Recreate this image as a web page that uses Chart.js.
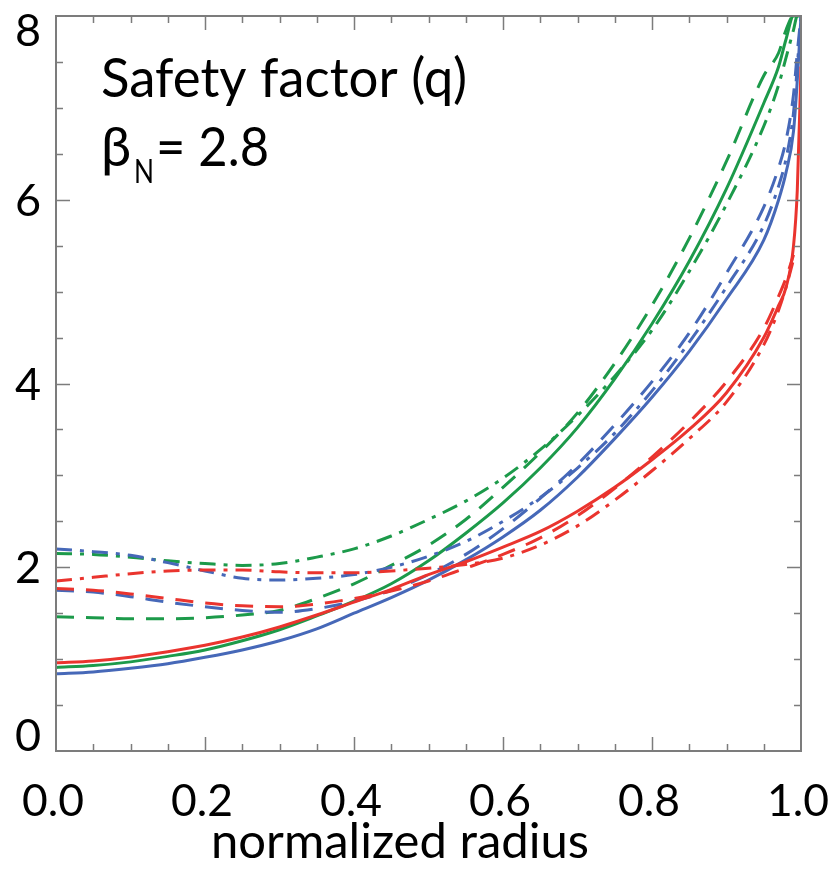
<!DOCTYPE html>
<html>
<head>
<meta charset="utf-8">
<script src="https://cdn.jsdelivr.net/npm/chart.js@4.4.0/dist/chart.umd.min.js"></script>
<style>
    html, body { margin: 0; padding: 0; background: #ffffff; }
    #wrap { width: 833px; height: 874px; }
</style>
</head>
<body>
<div id="wrap"><canvas id="qChart" width="833" height="874"></canvas></div>
<script>
// normalized radius grid shared by all profiles
const radius = [0, 0.05, 0.1, 0.15, 0.2, 0.25, 0.3, 0.35, 0.4, 0.45, 0.5, 0.55, 0.6, 0.65, 0.7, 0.75, 0.8, 0.85, 0.9, 0.95, 0.97, 0.98, 0.99, 0.995, 1.0];

// red
const redSolid   = [0.96, 0.98, 1.02, 1.08, 1.15, 1.24, 1.35, 1.48, 1.62, 1.76, 1.92, 2.06, 2.22, 2.39, 2.61, 2.87, 3.17, 3.50, 3.90, 4.50, 4.85, 5.05, 5.50, 6.10, 7.45];
const redDashed  = [1.77, 1.75, 1.71, 1.66, 1.61, 1.58, 1.57, 1.60, 1.66, 1.74, 1.85, 1.99, 2.14, 2.32, 2.56, 2.86, 3.20, 3.58, 4.02, 4.60, 4.95, 5.15, 5.40, null, null];
const redDashDot = [1.85, 1.89, 1.93, 1.96, 1.97, 1.97, 1.95, 1.94, 1.94, 1.96, 1.99, 2.03, 2.10, 2.24, 2.45, 2.73, 3.05, 3.40, 3.80, 4.42, 4.80, 5.05, 5.35, null, null];

// green
const greenSolid   = [0.91, 0.93, 0.97, 1.03, 1.10, 1.20, 1.32, 1.47, 1.63, 1.82, 2.07, 2.37, 2.70, 3.08, 3.52, 4.05, 4.65, 5.33, 6.12, 7.05, 7.45, 7.75, 8.00, 8.00, 8.00];
const greenDashed  = [1.46, 1.45, 1.44, 1.44, 1.45, 1.48, 1.53, 1.66, 1.82, 2.02, 2.24, 2.52, 2.87, 3.25, 3.68, 4.22, 4.85, 5.58, 6.42, 7.35, 7.60, 7.85, 8.00, 8.00, 8.00];
const greenDashDot = [2.15, 2.14, 2.11, 2.07, 2.04, 2.02, 2.04, 2.11, 2.20, 2.34, 2.52, 2.72, 2.97, 3.28, 3.65, 4.08, 4.58, 5.22, 5.95, 6.80, 7.25, 7.55, 7.85, 8.00, 8.00];

// blue
const blueSolid   = [0.84, 0.86, 0.90, 0.95, 1.02, 1.10, 1.20, 1.33, 1.50, 1.67, 1.86, 2.08, 2.33, 2.62, 2.98, 3.40, 3.85, 4.35, 4.92, 5.56, 6.00, 6.30, 6.75, 7.30, 8.00];
const blueDashed  = [1.75, 1.73, 1.68, 1.62, 1.57, 1.53, 1.51, 1.55, 1.63, 1.75, 1.92, 2.14, 2.42, 2.75, 3.12, 3.55, 4.02, 4.55, 5.20, 5.92, 6.35, 6.65, 7.15, 7.60, 8.00];
const blueDashDot = [2.20, 2.17, 2.13, 2.05, 1.96, 1.88, 1.86, 1.88, 1.92, 2.00, 2.12, 2.28, 2.50, 2.76, 3.08, 3.46, 3.92, 4.45, 5.05, 5.72, 6.15, 6.45, 6.95, 7.45, 8.00];

const xTickLabels = ['0.0', '0.2', '0.4', '0.6', '0.8', '1.0'];
const yTickLabels = ['0', '2', '4', '6', '8'];

const RED = 'rgb(234, 52, 46)';
const GREEN = 'rgb(28, 154, 74)';
const BLUE = 'rgb(70, 104, 184)';
const DASH = [18, 12];
const DASH_DOT = [16, 8, 4, 8];
const FONT = 'Lato, "Open Sans", sans-serif';

function toPoints(values) {
    return radius
        .map((r, i) => ({ x: r, y: values[i] }))
        .filter(p => p.y !== null);
}

function line(label, values, color, dash) {
    return {
        label,
        data: toPoints(values),
        borderColor: color,
        borderWidth: 3,
        borderDash: dash,
        pointRadius: 0,
        fill: false,
        cubicInterpolationMode: 'monotone'
    };
}

const framePlugin = {
    id: 'frame',
    afterDatasetsDraw(chart) {
        const { ctx, chartArea: a, scales: { x, y } } = chart;
        ctx.save();

        // ticks point inward on all four sides
        ctx.strokeStyle = '#7c7c7c';
        ctx.lineWidth = 1.5;
        for (let i = 1; i < 20; i++) {
            const px = Math.round(x.getPixelForValue(i * 0.05)) + 0.5;
            const len = (i % 4 === 0) ? 14 : 7;
            ctx.beginPath();
            ctx.moveTo(px, a.bottom); ctx.lineTo(px, a.bottom - len);
            ctx.moveTo(px, a.top); ctx.lineTo(px, a.top + len);
            ctx.stroke();
        }
        for (let i = 1; i < 16; i++) {
            const py = Math.round(y.getPixelForValue(i * 0.5)) + 0.5;
            const len = (i % 4 === 0) ? 14 : 7;
            ctx.beginPath();
            ctx.moveTo(a.left, py); ctx.lineTo(a.left + len, py);
            ctx.moveTo(a.right, py); ctx.lineTo(a.right - len, py);
            ctx.stroke();
        }

        ctx.lineWidth = 2;
        ctx.strokeRect(a.left, a.top, a.right - a.left, a.bottom - a.top);

        // tick labels
        ctx.fillStyle = '#000000';
        ctx.font = '45px ' + FONT;
        ctx.textAlign = 'center';
        ctx.textBaseline = 'alphabetic';
        xTickLabels.forEach(t => {
            const px = x.getPixelForValue(parseFloat(t));
            ctx.fillText(t, px - 3, 816, 62);
        });
        yTickLabels.forEach(t => {
            const py = y.getPixelForValue(parseFloat(t));
            const c = Math.min(Math.max(py, a.top + 14), a.bottom - 16);
            ctx.fillText(t, 28, c + 16);
        });

        // axis title
        ctx.font = '49px ' + FONT;
        ctx.fillText('normalized radius', 400, 858, 384);

        // annotation
        ctx.textAlign = 'left';
        ctx.font = '54px ' + FONT;
        ctx.fillText('Safety factor (q)', 101, 97, 366);
        ctx.fillText('\u03B2', 101, 166);
        ctx.font = '33px ' + FONT;
        ctx.fillText('N', 134, 183, 20);
        ctx.font = '54px ' + FONT;
        ctx.fillText('= 2.8', 156, 166, 113);

        ctx.restore();
    }
};

new Chart(document.getElementById('qChart').getContext('2d'), {
    type: 'line',
    data: {
        datasets: [
            line('red solid', redSolid, RED, []),
            line('red dashed', redDashed, RED, DASH),
            line('red dash-dot', redDashDot, RED, DASH_DOT),
            line('blue solid', blueSolid, BLUE, []),
            line('blue dashed', blueDashed, BLUE, DASH),
            line('blue dash-dot', blueDashDot, BLUE, DASH_DOT),
            line('green solid', greenSolid, GREEN, []),
            line('green dashed', greenDashed, GREEN, DASH),
            line('green dash-dot', greenDashDot, GREEN, DASH_DOT)
        ]
    },
    options: {
        responsive: false,
        animation: false,
        devicePixelRatio: 1,
        layout: { padding: { left: 56, top: 16, right: 32, bottom: 123 } },
        plugins: { legend: { display: false }, tooltip: { enabled: false } },
        scales: {
            x: { type: 'linear', min: 0, max: 1, display: false },
            y: { type: 'linear', min: 0, max: 8, display: false }
        }
    },
    plugins: [framePlugin]
});
</script>
</body>
</html>
